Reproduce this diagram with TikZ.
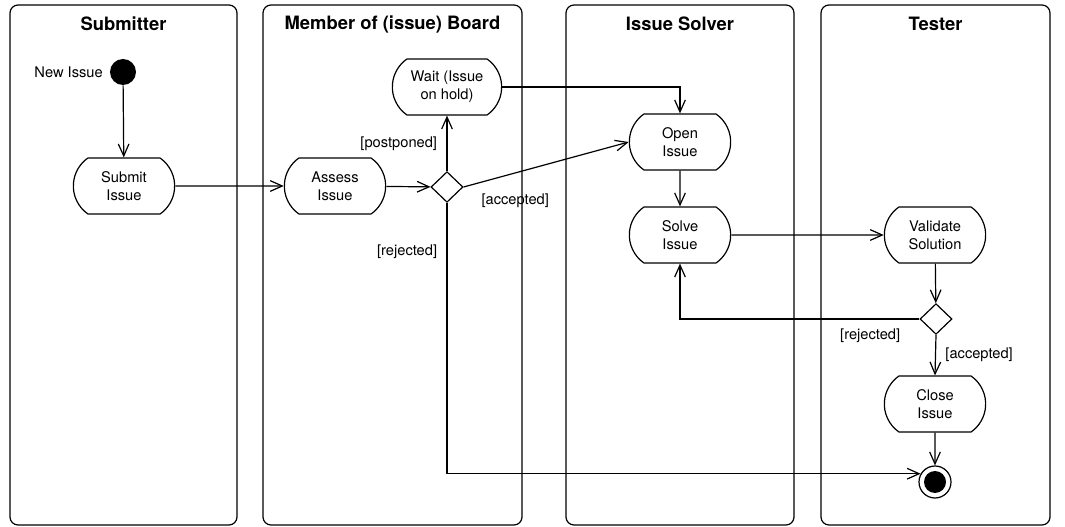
\documentclass[tikz,border=0pt]{standalone}
\usepackage{fontspec}
\setsansfont{TeX Gyre Heros}
\usetikzlibrary{shapes.geometric, shapes.misc, arrows.meta, positioning}

\begin{document}
\begin{tikzpicture}[
    x=0.75pt, y=-0.75pt,
    % Styles
    lane/.style={
        draw, rounded corners=6pt, line width=0.9pt
    },
    title/.style={
        font=\fontsize{13.8}{16}\selectfont\sffamily\bfseries
    },
    activity/.style={
        rounded rectangle, rounded rectangle arc length=110, draw,
        minimum width=#1, minimum height=42pt, inner sep=1pt,
        font=\fontsize{11}{13.5}\selectfont\sffamily, align=center, line width=0.9pt
    },
    activity/.default=78pt,
    decision/.style={
        diamond, draw, minimum width=24pt, minimum height=23pt,
        inner sep=0pt, line width=0.9pt
    },
    initnode/.style={
        circle, fill=black, minimum size=19.5pt, inner sep=0pt
    },
    finalnode/.style={
        circle, draw, minimum size=24pt, inner sep=0pt, line width=0.9pt,
        path picture={\fill (path picture bounding box.center) circle (8.25pt);}
    },
    arrow/.style={
        -{Straight Barb[length=9pt, width=8pt]}, line width=0.9pt
    },
    annot/.style={
        font=\fontsize{11}{13.5}\selectfont\sffamily, inner sep=1pt
    }
]

\useasboundingbox (0,0) rectangle (1065,527);

% ── Swimlanes ───────────────────────────────────────────────────────────────
\draw[lane] (10,5) rectangle (237,525);
\draw[lane] (263,5) rectangle (522,525);
\draw[lane] (566,5) rectangle (794,525);
\draw[lane] (821,5) rectangle (1050,525);

\node[title] (submitter) at (123.5,24) {Submitter};
\node[title] (board) at (392.5,24) {Member of (issue) Board};
\node[title] (solver) at (680,24) {Issue Solver};
\node[title] (tester) at (935.5,24) {Tester};

% ── Submitter ───────────────────────────────────────────────────────────────
\node[initnode] (start) at (123,72) {};
\node[annot, left=4pt of start] (newissue) {New Issue};
\node[activity] (submit) at (124,186) {Submit\\Issue};

% ── Board ───────────────────────────────────────────────────────────────────
\node[activity] (assess) at (335,186) {Assess\\Issue};
\node[decision] (dec1) at (447,187) {};
\node[activity=84pt] (wait) at (447,87) {Wait (Issue\\on hold)};

% ── Issue Solver ────────────────────────────────────────────────────────────
\node[activity] (open) at (680,142) {Open\\Issue};
\node[activity] (solve) at (680,235) {Solve\\Issue};

% ── Tester ──────────────────────────────────────────────────────────────────
\node[activity] (validate) at (935,235) {Validate\\Solution};
\node[decision] (dec2) at (936,319) {};
\node[activity] (close) at (935,404) {Close\\Issue};
\node[finalnode] (final) at (935,482) {};

% ── Arrows ──────────────────────────────────────────────────────────────────
\draw[arrow] (start) -- (submit);
\draw[arrow] (submit) -- (assess);
\draw[arrow] (assess) -- (dec1);

% Decision → postponed / accepted / rejected
\draw[arrow] (dec1.north) -- node[annot, midway, left=6pt] {[postponed]} (wait.south);
\draw[arrow] (dec1.east) -- node[annot, pos=0, below right=4pt and 12pt] {[accepted]} (open.west);
\draw[arrow] (dec1.south) |- node[annot, pos=0.09, left=6pt] {[rejected]} (final.150);
\draw[arrow] (wait.east) -| (open.north);

% Solver → Tester
\draw[arrow] (open) -- (solve);
\draw[arrow] (solve) -- (validate);
\draw[arrow] (validate) -- (dec2);
\draw[arrow] (dec2.west) -| node[annot, pos=0, below left=6pt and 13pt] {[rejected]} (solve.south);
\draw[arrow] (dec2.south) -- node[annot, midway, right=6pt] {[accepted]} (close.north);
\draw[arrow] (close) -- (final);

\end{tikzpicture}
\end{document}
